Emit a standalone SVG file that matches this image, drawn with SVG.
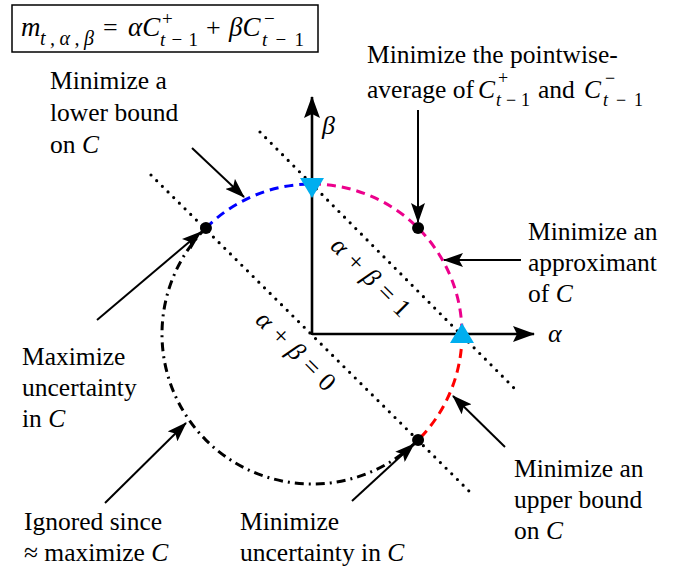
<svg xmlns="http://www.w3.org/2000/svg" width="687" height="570" viewBox="0 0 687 570" font-family="'Liberation Serif', serif">
<style>
text{font-family:'Liberation Serif','Times New Roman',serif;fill:#000}
.t{font-size:25.5px}
.i{font-style:italic}
.arr{stroke:#000;stroke-width:2;fill:none;marker-end:url(#ah)}
.axis{stroke:#000;stroke-width:2.6;fill:none;marker-end:url(#ax)}
.dot{stroke:#000;stroke-width:3.2;stroke-dasharray:0 8;stroke-linecap:round;fill:none}
.arc{stroke-width:3;fill:none;stroke-dasharray:9 6}
</style>
<defs>
<marker id="ah" viewBox="0 0 20 14" refX="19" refY="7" markerWidth="20" markerHeight="14" orient="auto" markerUnits="userSpaceOnUse"><path d="M0,0 L20,7 L0,14 L4,7 z" fill="#000"/></marker>
<marker id="ax" viewBox="0 0 22 16" refX="21" refY="8" markerWidth="22" markerHeight="16" orient="auto" markerUnits="userSpaceOnUse"><path d="M0,0 L22,8 L0,16 L4,8 z" fill="#000"/></marker>
</defs>

<g id="equation">
<rect x="12" y="5" width="306" height="47" fill="none" stroke="#000" stroke-width="1.5"/>
<text x="21" y="36" font-size="27" class="i">m</text>
<text x="40" y="45" font-size="20" class="i" textLength="54" lengthAdjust="spacing">t,α,β</text>
<text x="103" y="36" font-size="26">=</text>
<text x="128" y="36" font-size="27" class="i">αC</text>
<text x="162" y="25" font-size="19">+</text>
<text x="160" y="46" font-size="19" textLength="38" lengthAdjust="spacing"><tspan class="i">t</tspan>−1</text>
<text x="206" y="36" font-size="26">+</text>
<text x="229" y="36" font-size="27" class="i">βC</text>
<text x="264" y="25" font-size="19">−</text>
<text x="262" y="46" font-size="19" textLength="42" lengthAdjust="spacing"><tspan class="i">t</tspan>−1</text>
</g>

<g id="constraint-lines">
<line class="dot" x1="151" y1="175" x2="472" y2="494"/>
<line class="dot" x1="260" y1="132" x2="515" y2="389"/>
<text font-size="26" transform="translate(365,283) rotate(45)" text-anchor="middle"><tspan class="i">α</tspan><tspan dx="8">+</tspan><tspan dx="8" class="i">β</tspan><tspan dx="8">=</tspan><tspan dx="8">1</tspan></text>
<text font-size="26" transform="translate(290,357) rotate(45)" text-anchor="middle"><tspan class="i">α</tspan><tspan dx="8">+</tspan><tspan dx="8" class="i">β</tspan><tspan dx="8">=</tspan><tspan dx="8">0</tspan></text>
</g>

<g id="axes">
<line class="axis" x1="312" y1="334" x2="534" y2="334"/>
<line class="axis" x1="312" y1="335" x2="312" y2="97"/>
<text font-size="26" class="i" x="548" y="342">α</text>
<text font-size="26" class="i" x="322" y="134">β</text>
</g>

<g id="circle">
<path class="arc" stroke="#0000ff" d="M205.93,227.93 A150,150 0 0 1 312,184"/>
<path class="arc" stroke="#ec008c" d="M312,184 A150,150 0 0 1 462,334"/>
<path class="arc" stroke="#ff0000" d="M462,334 A150,150 0 0 1 418.07,440.07"/>
<path d="M418.07,440.07 A150,150 0 0 1 205.93,227.93" fill="none" stroke="#000" stroke-width="3" stroke-dasharray="9 5 2 5"/>
</g>

<g id="points">
<polygon points="300,178 324,178 312,198" fill="#00aeef"/>
<polygon points="450,343 474,343 462,323" fill="#00aeef"/>
<circle cx="205.93" cy="227.93" r="6" fill="#000"/>
<circle cx="418.07" cy="227.93" r="6" fill="#000"/>
<circle cx="418.07" cy="440.07" r="6" fill="#000"/>
</g>

<g id="connectors">
<line class="arr" x1="192" y1="148" x2="244" y2="197"/>
<line class="arr" x1="418" y1="110" x2="418" y2="222"/>
<line class="arr" x1="521" y1="260" x2="444" y2="260"/>
<line class="arr" x1="97" y1="320" x2="201" y2="232"/>
<line class="arr" x1="105" y1="503" x2="186" y2="423"/>
<line class="arr" x1="352" y1="501" x2="414" y2="444"/>
<line class="arr" x1="505" y1="447" x2="453" y2="396"/>
</g>

<g id="label-lower-bound">
<text class="t" x="50" y="89">Minimize a</text>
<text class="t" x="50" y="121">lower bound</text>
<text class="t" x="50" y="153">on <tspan class="i">C</tspan></text>
</g>
<g id="label-pointwise">
<text class="t" x="367" y="63">Minimize the pointwise-</text>
<text class="t" x="367" y="98">average of</text>
<text class="t i" x="478" y="98">C</text>
<text x="498" y="84" font-size="18">+</text>
<text x="496" y="106" font-size="18" textLength="34" lengthAdjust="spacing"><tspan class="i">t</tspan>−1</text>
<text class="t" x="538" y="98">and</text>
<text class="t i" x="584" y="98">C</text>
<text x="605" y="84" font-size="18">−</text>
<text x="603" y="106" font-size="18" textLength="40" lengthAdjust="spacing"><tspan class="i">t</tspan>−1</text>
</g>
<g id="label-approximant">
<text class="t" x="528" y="240">Minimize an</text>
<text class="t" x="528" y="271">approximant</text>
<text class="t" x="528" y="302">of <tspan class="i">C</tspan></text>
</g>
<g id="label-max-uncertainty">
<text class="t" x="22" y="365">Maximize</text>
<text class="t" x="22" y="396">uncertainty</text>
<text class="t" x="22" y="427">in <tspan class="i">C</tspan></text>
</g>
<g id="label-upper-bound">
<text class="t" x="514" y="477">Minimize an</text>
<text class="t" x="514" y="508">upper bound</text>
<text class="t" x="514" y="539">on <tspan class="i">C</tspan></text>
</g>
<g id="label-ignored">
<text class="t" x="24" y="530">Ignored since</text>
<text class="t" x="24" y="561">≈ maximize <tspan class="i">C</tspan></text>
</g>
<g id="label-min-uncertainty">
<text class="t" x="240" y="530">Minimize</text>
<text class="t" x="240" y="561">uncertainty in <tspan class="i">C</tspan></text>
</g>
</svg>
